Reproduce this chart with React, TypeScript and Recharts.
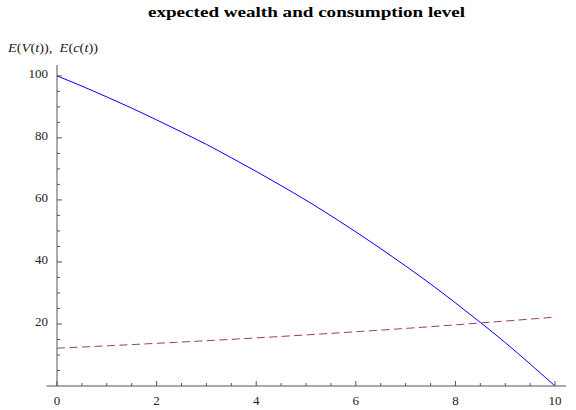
import React from "react";
import { LineChart, Line, XAxis, YAxis, ReferenceLine } from "recharts";

const times = [0, 0.5, 1, 1.5, 2, 2.5, 3, 3.5, 4, 4.5, 5, 5.5, 6, 6.5, 7, 7.5, 8, 8.5, 9, 9.5, 10];
const wealth = [100, 96.7, 93.2, 89.6, 85.8, 81.9, 77.9, 73.6, 69.2, 64.6, 59.9, 54.9, 49.7, 44.3, 38.7, 32.9, 26.8, 20.5, 14.0, 7.1, 0];
const consumption = [12.2, 12.57, 12.95, 13.35, 13.76, 14.17, 14.61, 15.05, 15.51, 15.98, 16.47, 16.97, 17.49, 18.02, 18.57, 19.13, 19.72, 20.32, 20.94, 21.57, 22.23];

const xTicks = [0, 0.5, 1, 1.5, 2, 2.5, 3, 3.5, 4, 4.5, 5, 5.5, 6, 6.5, 7, 7.5, 8, 8.5, 9, 9.5, 10];
const xMajor = [0, 2, 4, 6, 8, 10];
const yTicks = [5, 10, 15, 20, 25, 30, 35, 40, 45, 50, 55, 60, 65, 70, 75, 80, 85, 90, 95, 100];
const yMajor = [20, 40, 60, 80, 100];

const titleText = "expected wealth and consumption level";

const data = times.map((t, i) => ({ t, V: wealth[i], c: consumption[i] }));

const FONT = "'Liberation Serif', 'Times New Roman', serif";
const AXIS = "#555555";

const XTick = (props: any) => {
  const { x, y, payload } = props;
  const major = xMajor.includes(payload.value);
  return (
    <g>
      <line x1={x} y1={y} x2={x} y2={y - (major ? 5 : 3)} stroke={AXIS} strokeWidth={1} />
      {major && (
        <text x={x} y={y + 18.5} textAnchor="middle" fontFamily={FONT} fontSize={13} fill="#222">
          {payload.value}
        </text>
      )}
    </g>
  );
};

const YTick = (props: any) => {
  const { x, y, payload } = props;
  const major = yMajor.includes(payload.value);
  return (
    <g>
      <line x1={x} y1={y} x2={x + (major ? 5 : 3)} y2={y} stroke={AXIS} strokeWidth={1} />
      {major && (
        <text x={x - 9} y={y + 2.5} textAnchor="end" fontFamily={FONT} fontSize={13} fill="#222">
          {payload.value}
        </text>
      )}
    </g>
  );
};

export default function App() {
  return (
    <div style={{ position: "absolute", left: 0, top: 0, width: 576, height: 410, background: "#fff" }}>
      <LineChart width={576} height={410} data={data} margin={{ top: 65, right: 10, bottom: 0, left: 0 }}>
        <XAxis
          dataKey="t"
          type="number"
          domain={[0, 10.22]}
          ticks={xTicks}
          tick={<XTick />}
          tickLine={false}
          tickSize={0}
          tickMargin={0}
          height={24}
          axisLine={{ stroke: AXIS, strokeWidth: 1 }}
          interval={0}
        />
        <YAxis
          type="number"
          domain={[0, 103.5]}
          ticks={yTicks}
          tick={<YTick />}
          tickLine={false}
          tickSize={0}
          tickMargin={0}
          width={57}
          axisLine={{ stroke: AXIS, strokeWidth: 1 }}
          interval={0}
        />
        <ReferenceLine
          segment={[{ x: -0.21, y: 0 }, { x: 0, y: 0 }]}
          stroke={AXIS}
          strokeWidth={1}
          ifOverflow="visible"
        />
        <Line dataKey="V" type="monotone" stroke="#0000ff" strokeWidth={1} dot={false} isAnimationActive={false} />
        <Line dataKey="c" type="monotone" stroke="#993d71" strokeWidth={1} strokeDasharray="8 4.5" dot={false} isAnimationActive={false} />
      </LineChart>
      <svg width={576} height={410} style={{ position: "absolute", left: 0, top: 0, pointerEvents: "none" }}>
        <text
          x={148}
          y={16.5}
          textLength={317}
          lengthAdjust="spacingAndGlyphs"
          fontFamily={FONT}
          fontSize={15}
          fontWeight="bold"
          fill="#000"
        >
          {titleText}
        </text>
        <text transform="translate(8,52) scale(1.2,1)" x={0} y={0} fontFamily={FONT} fontSize={12} fill="#222">
          <tspan fontStyle="italic">E</tspan>
          <tspan>(</tspan>
          <tspan fontStyle="italic">V</tspan>
          <tspan>(</tspan>
          <tspan fontStyle="italic">t</tspan>
          <tspan>{")),\u00a0\u00a0"}</tspan>
          <tspan fontStyle="italic">E</tspan>
          <tspan>(</tspan>
          <tspan fontStyle="italic">c</tspan>
          <tspan>(</tspan>
          <tspan fontStyle="italic">t</tspan>
          <tspan>))</tspan>
        </text>
      </svg>
    </div>
  );
}
